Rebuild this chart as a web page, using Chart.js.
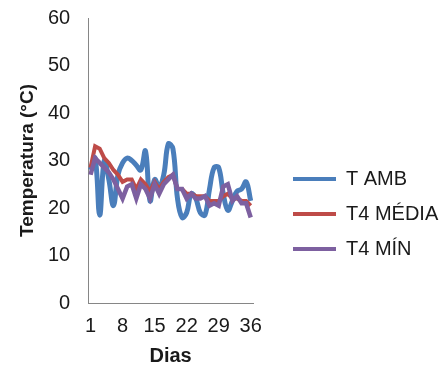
<!DOCTYPE html>
<html>
<head>
<meta charset="utf-8">
<title>Temperatura por dia</title>
<script src="https://cdn.jsdelivr.net/npm/chart.js@4/dist/chart.umd.min.js"></script>
<style>
  html, body { margin: 0; padding: 0; background: #ffffff; }
  canvas { display: block; }
</style>
</head>
<body>
<canvas id="chart" width="447" height="372"></canvas>
<script>
// Dias de observação (1 a 36)
const dias = [1, 2, 3, 4, 5, 6, 7, 8, 9, 10, 11, 12, 13, 14, 15, 16, 17, 18,
              19, 20, 21, 22, 23, 24, 25, 26, 27, 28, 29, 30, 31, 32, 33, 34, 35, 36];

// Dias com rótulo no eixo X
const diasRotulados = [1, 8, 15, 22, 29, 36];

// Marcas do eixo Y (°C)
const yTicks = [0, 10, 20, 30, 40, 50, 60];

// Temperatura ambiente
const tAmb = [28, 30.5, 18.5, 30, 26, 20.5, 27, 29.5, 30.5, 30, 29, 28,
              32, 21.5, 26, 24.5, 27, 33.5, 32.5, 22, 18, 19, 23, 22,
              19, 18.5, 24, 28.5, 28.5, 23, 19.5, 21.5, 23.5, 24, 25.5, 21.5];

// Tratamento 4 - temperatura média
const t4Media = [28.5, 33, 32.5, 30.5, 29.5, 28, 27, 25.5, 26, 26, 24, 26,
                 25, 23.5, 25.5, 24, 25.5, 26.5, 27, 24, 24, 23, 23, 22.5,
                 22.5, 22.5, 21.5, 21.5, 21.5, 22.5, 23, 22, 22, 21.5, 21.5, 20.5];

// Tratamento 4 - temperatura mínima
const t4Min = [27, 30.5, 29.5, 28.5, 27.5, 26, 24, 22, 24.5, 25, 22, 25,
               24, 22, 25, 23, 25, 26, 27, 24, 24, 22, 23, 22,
               22, 22.5, 20.5, 21, 20.5, 24.5, 25, 21.5, 22.5, 21, 21, 18];

const FONT = '"Liberation Sans", Arial, sans-serif';
const TEXT = '#1a1a1a';
const AXIS = '#868686';

// Legenda à direita da área do gráfico: afastamento e centro da primeira linha
const LEGEND_GAP = 40;
const LEGEND_FIRST_ROW_Y = 179;

const legendPlacement = {
  id: 'legendPlacement',
  afterLayout(chart) {
    const lg = chart.legend;
    if (!lg) return;
    const pad = lg.options.labels.padding;
    const fontSize = lg.options.labels.font.size;
    const newLeft = chart.chartArea.right + LEGEND_GAP - pad;
    const newTop = LEGEND_FIRST_ROW_Y - fontSize / 2 - pad;
    const w = lg.width, h = lg.height;
    lg.left = newLeft; lg.right = newLeft + w;
    lg.top = newTop; lg.bottom = newTop + h;
  }
};

new Chart(document.getElementById('chart'), {
  type: 'line',
  data: {
    labels: dias,
    datasets: [
      {
        label: 'T AMB',
        data: tAmb,
        borderColor: '#4A7EBB',
        backgroundColor: '#4A7EBB',
        borderWidth: 5,
        tension: 0.4,
        pointRadius: 0,
        order: 3
      },
      {
        label: 'T4 MÉDIA',
        data: t4Media,
        borderColor: '#BE4B48',
        backgroundColor: '#BE4B48',
        borderWidth: 4,
        tension: 0,
        pointRadius: 0,
        order: 2
      },
      {
        label: 'T4 MÍN',
        data: t4Min,
        borderColor: '#7D60A0',
        backgroundColor: '#7D60A0',
        borderWidth: 4.5,
        tension: 0,
        pointRadius: 0,
        order: 1
      }
    ]
  },
  options: {
    responsive: false,
    animation: false,
    layout: { padding: { left: 18, top: 18, right: 194, bottom: 0 } },
    plugins: {
      tooltip: { enabled: false },
      legend: {
        position: 'chartArea',
        align: 'start',
        labels: {
          font: { family: FONT, size: 20 },
          color: TEXT,
          boxWidth: 43,
          boxHeight: 4,
          padding: 15,
          borderRadius: 2,
          sort: (a, b) => a.datasetIndex - b.datasetIndex,
          generateLabels(chart) {
            const items = Chart.defaults.plugins.legend.labels.generateLabels(chart);
            return items.map(it => Object.assign(it, { fillStyle: it.strokeStyle, lineWidth: 0 }));
          }
        }
      }
    },
    scales: {
      x: {
        type: 'category',
        offset: true,
        grid: { display: false, drawTicks: false },
        border: { display: true, color: AXIS, width: 1 },
        ticks: {
          autoSkip: false,
          maxRotation: 0,
          padding: 13,
          font: { family: FONT, size: 20, lineHeight: 1 },
          color: TEXT,
          callback(value, index) {
            const d = dias[index];
            return diasRotulados.includes(d) ? String(d) : '';
          }
        },
        title: {
          display: true,
          text: 'Dias',
          font: { family: FONT, size: 20, weight: 'bold', lineHeight: 1 },
          color: TEXT,
          padding: { top: -3, bottom: 6 }
        }
      },
      y: {
        min: yTicks[0],
        max: yTicks[yTicks.length - 1],
        afterBuildTicks(scale) { scale.ticks = yTicks.map(v => ({ value: v })); },
        // the top label may overhang the plot; the page padding already leaves room for it
        afterFit(scale) { scale.paddingTop = 0; },
        grid: { display: false, drawTicks: false },
        border: { display: true, color: AXIS, width: 1 },
        ticks: {
          padding: 18,
          font: { family: FONT, size: 20 },
          color: TEXT
        },
        title: {
          display: true,
          text: 'Temperatura (°C)',
          font: { family: FONT, size: 19, weight: 'bold', lineHeight: 1 },
          color: TEXT,
          padding: { top: 0, bottom: -7 }
        }
      }
    }
  },
  plugins: [legendPlacement]
});
</script>
</body>
</html>
